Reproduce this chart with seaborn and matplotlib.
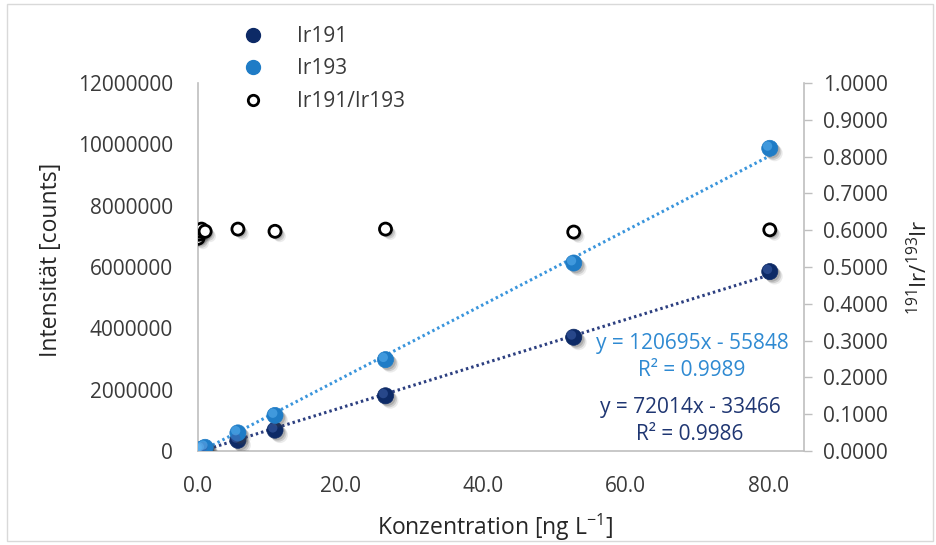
import numpy as np
import pandas as pd
import matplotlib
matplotlib.use("Agg")
import matplotlib.pyplot as plt
import matplotlib.patheffects as pe
import matplotlib.transforms as mtrans
from matplotlib.lines import Line2D
from matplotlib.patches import Rectangle
import seaborn as sns

# ---------------- data ----------------
conc = [0.0, 0.1, 0.25, 0.5, 1.0, 5.6, 10.8, 26.3, 52.7, 80.2]
ir191 = [0, 7000, 18000, 36000, 72000, 350000, 680000, 1800000, 3710000, 5850000]
ir193 = [0, 12000, 30000, 60000, 120000, 590000, 1160000, 2980000, 6130000, 9870000]
ratio = [0.578, 0.589, 0.597, 0.603, 0.597, 0.603, 0.597, 0.603, 0.595, 0.601]

fit193 = (120695, -55848)
fit191 = (72014, -33466)
eq193 = ["y = 120695x - 55848", "R² = 0.9989"]
eq191 = ["y = 72014x - 33466", "R² = 0.9986"]

x_ticks = [0, 20, 40, 60, 80]
y_ticks = [0, 2000000, 4000000, 6000000, 8000000, 10000000, 12000000]
r_ticks = [0.0, 0.1, 0.2, 0.3, 0.4, 0.5, 0.6, 0.7, 0.8, 0.9, 1.0]

series_names = ["Ir191", "Ir193", "Ir191/Ir193"]

# ---------------- style ----------------
sns.set_theme(style="white")
plt.rcParams['font.family'] = ['Open Sans', 'DejaVu Sans']
plt.rcParams['mathtext.fontset'] = 'custom'
plt.rcParams['mathtext.rm'] = 'Open Sans'
plt.rcParams['mathtext.default'] = 'regular'

C191 = "#0d2a66"
C193 = "#1f7cc6"
L191 = "#2c3f80"
L193 = "#3a95dc"
T193 = "#2f8ad2"
T191 = "#1f3672"
TXT = "#3a3a3a"
GRID = "#bfbfbf"

W, H = 937, 545
fig = plt.figure(figsize=(W / 100, H / 100), dpi=100)
fig.patch.set_facecolor("white")
fig.add_artist(Rectangle((7 / W, 4 / H), (933 - 7) / W, (541 - 4) / H,
                         transform=fig.transFigure, fill=False,
                         edgecolor="#d9d9d9", lw=1.0))

ax = fig.add_axes([198 / W, 1 - 451 / H, (804 - 198) / W, (451 - 83) / H])
ax.set_facecolor("none")
ax2 = ax.twinx()
ax2.set_facecolor("none")

df = pd.DataFrame({"conc": conc, "Ir191": ir191, "Ir193": ir193, "ratio": ratio})

# trend lines
xfit = np.array([min(conc), max(conc)])
tl = pd.DataFrame({"x": np.concatenate([xfit, xfit]),
                   "y": np.concatenate([fit191[0] * xfit + fit191[1],
                                        fit193[0] * xfit + fit193[1]]),
                   "s": ["Ir191"] * 2 + ["Ir193"] * 2})
sns.lineplot(data=tl[tl.s == "Ir191"], x="x", y="y", ax=ax, color=L191,
             lw=2.2, linestyle=(0, (0.8, 1.0)), zorder=2, legend=False)
sns.lineplot(data=tl[tl.s == "Ir193"], x="x", y="y", ax=ax, color=L193,
             lw=2.2, linestyle=(0, (0.8, 1.0)), zorder=2, legend=False)

# soft (multi-layer) drop shadow
shadow = [pe.SimplePatchShadow(offset=(1.5, -1.5), shadow_rgbFace="#444444", alpha=0.22),
          pe.SimplePatchShadow(offset=(2.5, -2.5), shadow_rgbFace="#444444", alpha=0.18),
          pe.SimplePatchShadow(offset=(3.5, -3.5), shadow_rgbFace="#444444", alpha=0.10),
          pe.Normal()]
hl = mtrans.offset_copy(ax.transData, fig=fig, x=-1.6, y=1.6, units="points")

for col, c, lc in [("Ir191", C191, "#3d5fa8"), ("Ir193", C193, "#5cb2f0")]:
    sns.scatterplot(data=df, x="conc", y=col, ax=ax, s=135, color=c,
                    edgecolor=c, linewidth=0.5, zorder=4, legend=False,
                    path_effects=shadow)
    sns.scatterplot(data=df, x="conc", y=col, ax=ax, s=45, color=lc,
                    edgecolor="none", linewidth=0, alpha=0.55, zorder=5,
                    legend=False, transform=hl)

sns.scatterplot(data=df, x="conc", y="ratio", ax=ax2, s=75, facecolor="white",
                edgecolor="black", linewidth=2.0, zorder=4, legend=False,
                path_effects=shadow)

# ---------------- axes ----------------
ax.set_xlim(0, 85)
ax.set_ylim(0, 12000000)
ax2.set_ylim(0, 1.0)
ax.set_xticks(x_ticks)
ax.set_xticklabels([f"{v:.1f}" for v in x_ticks])
ax.set_yticks(y_ticks)
ax.set_yticklabels([f"{v:d}" for v in y_ticks])
ax2.set_yticks(r_ticks)
ax2.set_yticklabels([f"{v:.4f}" for v in r_ticks])

for a in (ax, ax2):
    for s in a.spines.values():
        s.set_visible(False)
ax.spines["left"].set_visible(True)
ax.spines["bottom"].set_visible(True)
ax2.spines["right"].set_visible(True)
for s in (ax.spines["left"], ax.spines["bottom"], ax2.spines["right"]):
    s.set_color(GRID)
    s.set_linewidth(1.2)

ax.tick_params(axis="x", length=0, pad=18, labelsize=15, labelcolor=TXT)
ax.tick_params(axis="y", length=0, pad=18, labelsize=15, labelcolor=TXT, left=True)
ax2.tick_params(axis="y", length=6, width=1.0, color=GRID, pad=8,
                labelsize=15, labelcolor=TXT, right=True)

ax.set_xlabel("Konzentration [ng L$^{-1}$]", fontsize=16.5, color="#262626")
ax.xaxis.set_label_coords(0.49, -0.165)
ax.set_ylabel("Intensität [counts]", fontsize=16.5, color="#262626", va="center")
ax.yaxis.set_label_coords(-0.243, 0.52)
ax2.set_ylabel("$^{191}$Ir/$^{193}$Ir", fontsize=16, color="#262626",
               rotation=90, va="center")
ax2.yaxis.set_label_coords(1.19, 0.5)

# equations
for txt, yy in zip(eq193, [343, 370]):
    ax.text(692 / W, 1 - yy / H, txt, transform=fig.transFigure, ha="center",
            va="center", fontsize=15, color=T193, zorder=6)
for txt, yy in zip(eq191, [408, 435]):
    ax.text(690 / W, 1 - yy / H, txt, transform=fig.transFigure, ha="center",
            va="center", fontsize=15, color=T191, zorder=6)

# legend
handles = [
    Line2D([], [], ls="none", marker="o", ms=10, mfc=C191, mec=C191),
    Line2D([], [], ls="none", marker="o", ms=10, mfc=C193, mec=C193),
    Line2D([], [], ls="none", marker="o", ms=7.5, mfc="white", mec="black", mew=2),
]
leg = fig.legend(handles, series_names, loc="upper left",
                 bbox_to_anchor=(243 / W, 1 - 26 / H), frameon=False,
                 fontsize=15, handlelength=1.0, handletextpad=1.6,
                 labelspacing=0.55, borderaxespad=0, borderpad=0)
for t in leg.get_texts():
    t.set_color(TXT)

fig.savefig("out.png", dpi=100, facecolor="white")
